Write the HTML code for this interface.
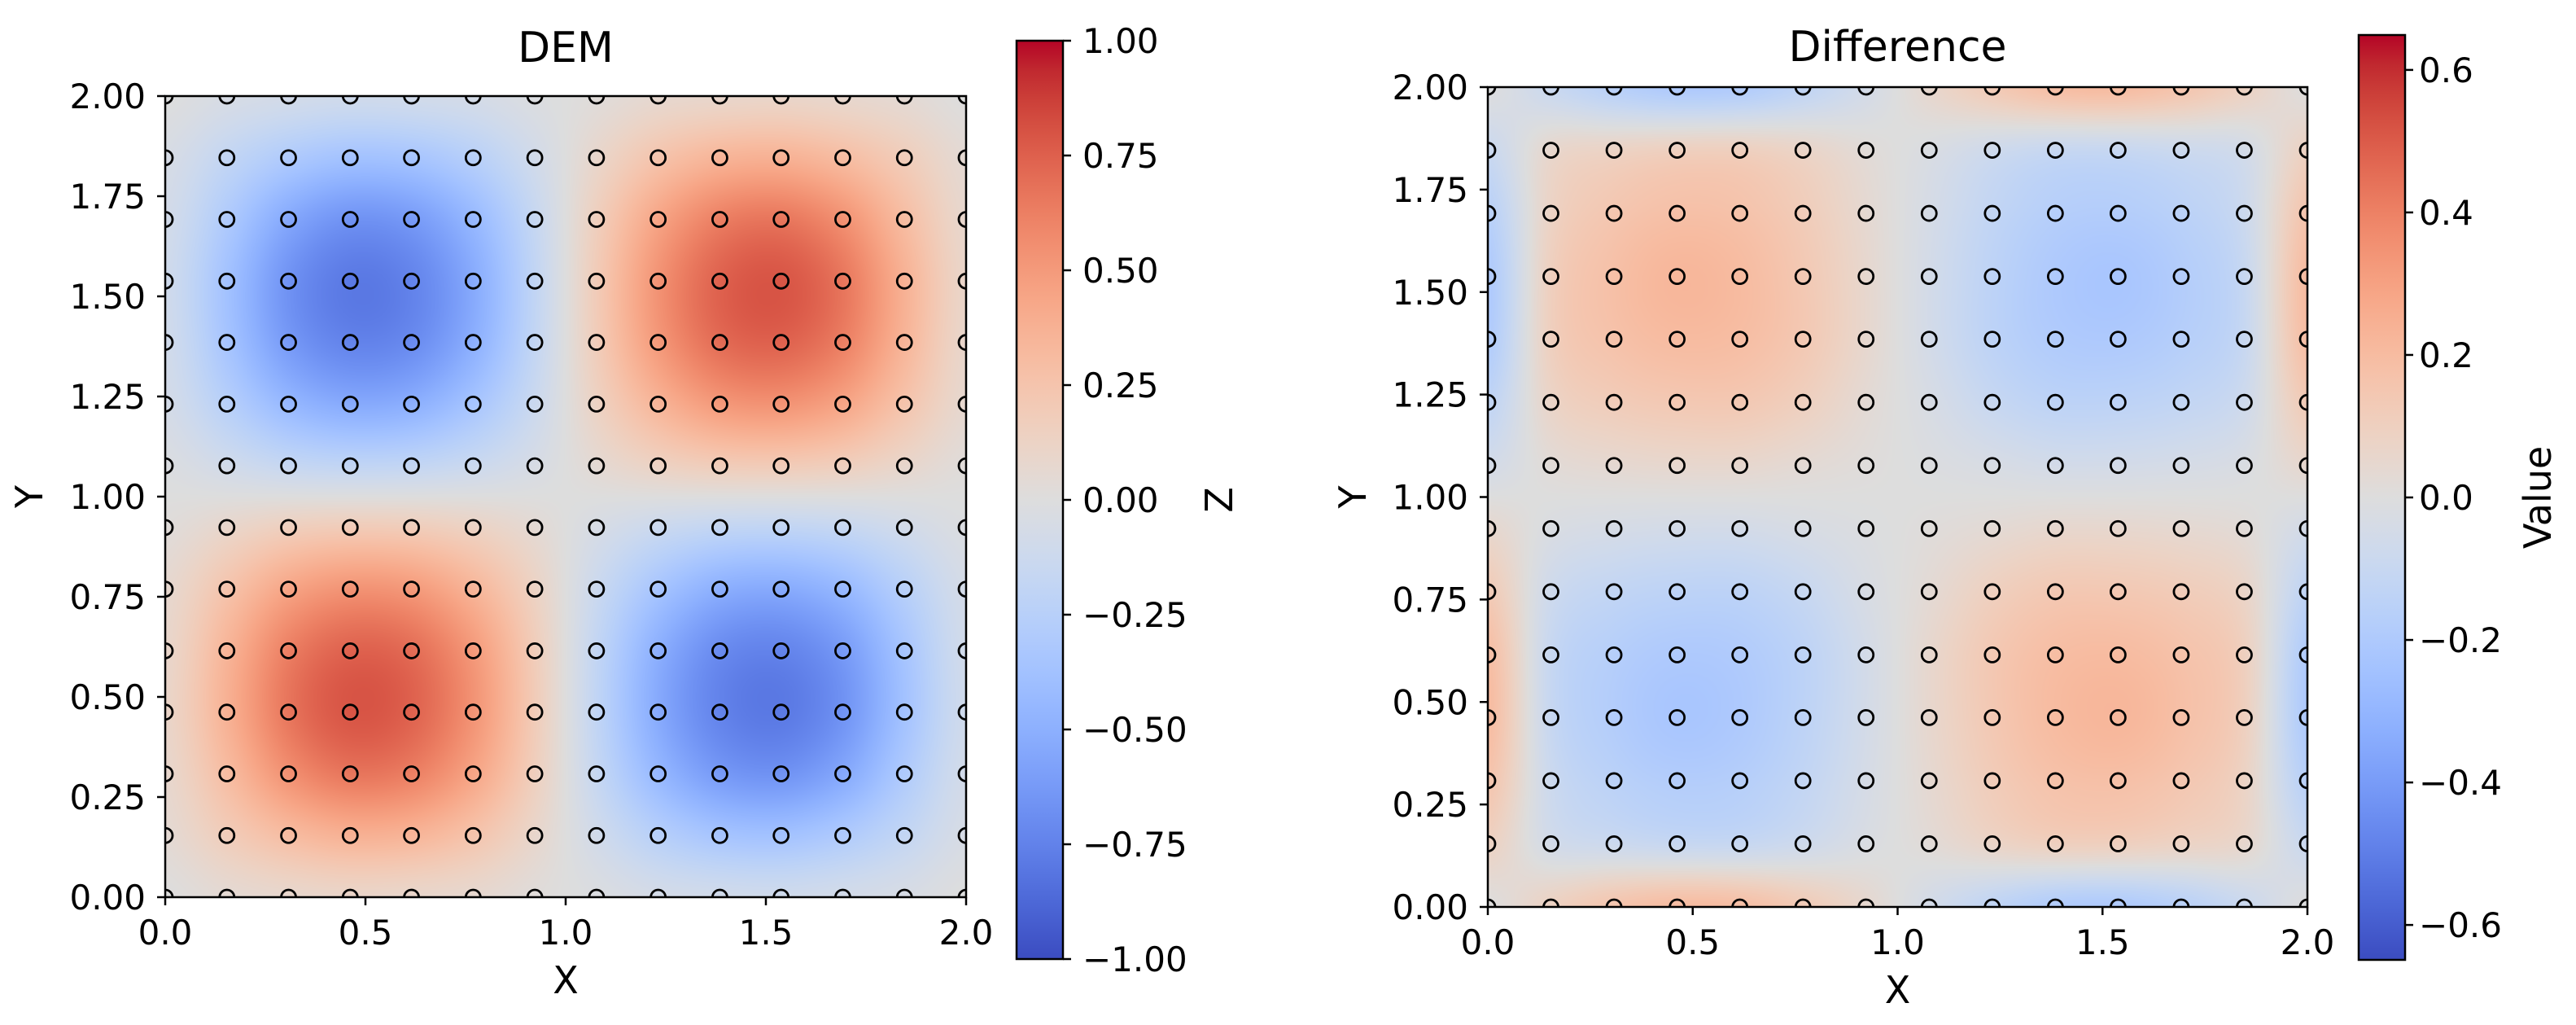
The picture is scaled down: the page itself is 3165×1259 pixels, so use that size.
<!DOCTYPE html>
<html><head><meta charset="utf-8">
<style>
html,body{margin:0;padding:0;background:#fff;}
#wrap{position:relative;width:3165px;height:1259px;overflow:hidden;}
canvas{position:absolute;}
svg{position:absolute;left:0;top:0;}
text{font-family:"DejaVu Sans","Liberation Sans",sans-serif;fill:#000;}
</style></head>
<body>
<div id="wrap">
<canvas id="c1" width="984" height="984" style="left:203px;top:118px;"></canvas>
<canvas id="c2" width="1007" height="1007" style="left:1828px;top:107px;"></canvas>
<svg id="svg" width="3165" height="1259" xmlns="http://www.w3.org/2000/svg"></svg>
</div>
<script>
// grid coordinates (14 points from 0 to 2)
const gridX = [0,0.154,0.308,0.462,0.615,0.769,0.923,1.077,1.231,1.385,1.538,1.692,1.846,2.0];
const gridY = [0,0.154,0.308,0.462,0.615,0.769,0.923,1.077,1.231,1.385,1.538,1.692,1.846,2.0];
// DEM values, rows from y=0 upward
const demRows = [
[0,.05,.08,.10,.09,.07,.02,-.02,-.07,-.09,-.10,-.08,-.05,0],
[.05,.18,.30,.37,.35,.25,.09,-.09,-.25,-.35,-.37,-.30,-.18,-.05],
[.08,.30,.54,.66,.62,.44,.16,-.16,-.44,-.62,-.66,-.54,-.30,-.08],
[.10,.37,.66,.79,.74,.53,.19,-.19,-.53,-.74,-.79,-.66,-.37,-.10],
[.09,.35,.62,.74,.70,.50,.18,-.18,-.50,-.70,-.74,-.62,-.35,-.09],
[.07,.25,.44,.53,.50,.35,.13,-.13,-.35,-.50,-.53,-.44,-.25,-.07],
[.02,.09,.16,.19,.18,.13,.05,-.05,-.13,-.18,-.19,-.16,-.09,-.02],
[-.02,-.09,-.16,-.19,-.18,-.13,-.05,.05,.13,.18,.19,.16,.09,.02],
[-.07,-.25,-.44,-.53,-.50,-.35,-.13,.13,.35,.50,.53,.44,.25,.07],
[-.09,-.35,-.62,-.74,-.70,-.50,-.18,.18,.50,.70,.74,.62,.35,.09],
[-.10,-.37,-.66,-.79,-.74,-.53,-.19,.19,.53,.74,.79,.66,.37,.10],
[-.08,-.30,-.54,-.66,-.62,-.44,-.16,.16,.44,.62,.66,.54,.30,.08],
[-.05,-.18,-.30,-.37,-.35,-.25,-.09,.09,.25,.35,.37,.30,.18,.05],
[0,-.05,-.08,-.10,-.09,-.07,-.02,.02,.07,.09,.10,.08,.05,0]
];
// Difference values, rows from y=0 upward
const diffRows = [
[0,.09,.16,.20,.19,.13,.05,-.05,-.13,-.19,-.20,-.16,-.09,0],
[.09,-.05,-.08,-.10,-.10,-.07,-.02,.02,.07,.10,.10,.08,.05,-.09],
[.16,-.08,-.15,-.18,-.17,-.12,-.04,.04,.12,.17,.18,.15,.08,-.16],
[.20,-.10,-.18,-.22,-.20,-.14,-.05,.05,.14,.20,.22,.18,.10,-.20],
[.19,-.10,-.17,-.20,-.19,-.14,-.05,.05,.14,.19,.20,.17,.10,-.19],
[.13,-.07,-.12,-.14,-.14,-.10,-.03,.03,.10,.14,.14,.12,.07,-.13],
[.05,-.02,-.04,-.05,-.05,-.03,-.01,.01,.03,.05,.05,.04,.02,-.05],
[-.05,.02,.04,.05,.05,.03,.01,-.01,-.03,-.05,-.05,-.04,-.02,.05],
[-.13,.07,.12,.14,.14,.10,.03,-.03,-.10,-.14,-.14,-.12,-.07,.13],
[-.19,.10,.17,.20,.19,.14,.05,-.05,-.14,-.19,-.20,-.17,-.10,.19],
[-.20,.10,.18,.22,.20,.14,.05,-.05,-.14,-.20,-.22,-.18,-.10,.20],
[-.16,.08,.15,.18,.17,.12,.04,-.04,-.12,-.17,-.18,-.15,-.08,.16],
[-.09,.05,.08,.10,.10,.07,.02,-.02,-.07,-.10,-.10,-.08,-.05,.09],
[0,-.09,-.16,-.20,-.19,-.13,-.05,.05,.13,.19,.20,.16,.09,0]
];
const axisTicks = [0,0.5,1.0,1.5,2.0];
const xTickLabels = ["0.0","0.5","1.0","1.5","2.0"];
const yTicks = [0,0.25,0.5,0.75,1.0,1.25,1.5,1.75,2.0];
const yTickLabels = ["0.00","0.25","0.50","0.75","1.00","1.25","1.50","1.75","2.00"];
const cb1Ticks = [-1,-0.75,-0.5,-0.25,0,0.25,0.5,0.75,1];
const cb1Labels = ["\u22121.00","\u22120.75","\u22120.50","\u22120.25","0.00","0.25","0.50","0.75","1.00"];
const cb2Ticks = [-0.6,-0.4,-0.2,0,0.2,0.4,0.6];
const cb2Labels = ["\u22120.6","\u22120.4","\u22120.2","0.0","0.2","0.4","0.6"];

const CW = [[59,76,192],[68,90,204],[77,104,215],[87,117,225],[98,130,234],[108,142,241],[119,154,247],[130,165,251],[141,176,254],[152,185,255],[163,194,255],[174,201,253],[184,208,249],[194,213,244],[204,217,238],[213,219,230],[221,221,221],[229,216,209],[236,211,197],[241,204,185],[245,196,173],[247,187,160],[247,177,148],[247,166,135],[244,154,123],[241,141,111],[236,127,99],[229,112,88],[222,96,77],[213,80,66],[203,62,56],[192,40,47],[180,4,38]];
function cw(t){t=Math.max(0,Math.min(1,t));const f=t*32;const i=Math.min(31,Math.floor(f));const r=f-i;const a=CW[i],b=CW[i+1];return [a[0]+(b[0]-a[0])*r,a[1]+(b[1]-a[1])*r,a[2]+(b[2]-a[2])*r];}
function cr(p0,p1,p2,p3,t){return 0.5*((2*p1)+(-p0+p2)*t+(2*p0-5*p1+4*p2-p3)*t*t+(-p0+3*p1-3*p2+p3)*t*t*t);}
function sample(G,u,v){
  const n=G.length-1;
  const iu=Math.min(n-1,Math.floor(u)), iv=Math.min(n-1,Math.floor(v));
  const fu=u-iu, fv=v-iv;
  const g=(j,i)=>G[Math.max(0,Math.min(n,j))][Math.max(0,Math.min(n,i))];
  const col=[];
  for(let dj=-1;dj<=2;dj++){const j=iv+dj;col.push(cr(g(j,iu-1),g(j,iu),g(j,iu+1),g(j,iu+2),fu));}
  return cr(col[0],col[1],col[2],col[3],fv);
}
function drawHeat(id,G,vmin,vmax){
  const c=document.getElementById(id);const ctx=c.getContext('2d');
  const W=c.width,H=c.height;const img=ctx.createImageData(W,H);const n=G.length-1;
  for(let py=0;py<H;py++){
    const yv=(1-(py+0.5)/H)*2; const v=yv/2*n;
    for(let px=0;px<W;px++){
      const xv=(px+0.5)/W*2; const u=xv/2*n;
      const val=sample(G,u,v);const col=cw((val-vmin)/(vmax-vmin));
      const k=(py*W+px)*4;img.data[k]=col[0];img.data[k+1]=col[1];img.data[k+2]=col[2];img.data[k+3]=255;
    }
  }
  ctx.putImageData(img,0,0);
}
drawHeat('c1',demRows,-1,1);
drawHeat('c2',diffRows,-0.649,0.649);

const NS="http://www.w3.org/2000/svg";
const svg=document.getElementById('svg');
function mk(tag,attrs,parent){const e=document.createElementNS(NS,tag);for(const k in attrs)e.setAttribute(k,attrs[k]);(parent||svg).appendChild(e);return e;}
function txt(s,attrs,parent){const e=mk('text',attrs,parent);e.textContent=s;return e;}

const defs=mk('defs',{});
const grad=mk('linearGradient',{id:'cwg',x1:0,y1:1,x2:0,y2:0},defs);
CW.forEach((c,i)=>{mk('stop',{offset:(i/32),'stop-color':`rgb(${c[0]},${c[1]},${c[2]})`},grad);});

function panel(cfg){
  const g=mk('g',{});
  
  
  const sx=v=>cfg.x0+v/2*cfg.w, sy=v=>cfg.y0+cfg.h-v/2*cfg.h;
  const cid='clip-'+cfg.name;
  const cp=mk('clipPath',{id:cid},defs);mk('rect',{x:cfg.x0,y:cfg.y0,width:cfg.w,height:cfg.h},cp);
  const mg=mk('g',{'clip-path':`url(#${cid})`},g);
  
  
  gridY.forEach(yv=>gridX.forEach(xv=>{
    const c=mk('circle',{cx:sx(xv),cy:sy(yv),r:9,fill:'none',stroke:'#000','stroke-width':2.8},mg);
    
    
  }));
  const fr=mk('rect',{x:cfg.x0,y:cfg.y0,width:cfg.w,height:cfg.h,fill:'none',stroke:'#000','stroke-width':2.5},g);
  
  
  axisTicks.forEach((v,i)=>{
    mk('line',{x1:sx(v),x2:sx(v),y1:cfg.y0+cfg.h,y2:cfg.y0+cfg.h+10,stroke:'#000','stroke-width':2.5},g);
    const t=txt(xTickLabels[i],{x:sx(v),y:cfg.y0+cfg.h+58,'font-size':42,'text-anchor':'middle'},g);
    
    
  });
  yTicks.forEach((v,i)=>{
    mk('line',{x1:cfg.x0-10,x2:cfg.x0,y1:sy(v),y2:sy(v),stroke:'#000','stroke-width':2.5},g);
    const t=txt(yTickLabels[i],{x:cfg.x0-24,y:sy(v)+15,'font-size':42,'text-anchor':'end'},g);
    
    
  });
  const tt=txt(cfg.title,{x:cfg.x0+cfg.w/2,y:cfg.titleY,'font-size':52,'text-anchor':'middle'},g);
  
  
  const xl=txt('X',{x:cfg.x0+cfg.w/2,y:cfg.y0+cfg.h+118,'font-size':46,'text-anchor':'middle'},g);
  
  
  const yl=txt('Y',{x:0,y:0,'font-size':46,'text-anchor':'middle',transform:`translate(${cfg.ylx},${cfg.y0+cfg.h/2}) rotate(-90)`},g);
  
  
  const cb=mk('g',{},g);
  
  
  mk('rect',{x:cfg.cbx,y:cfg.cbt,width:cfg.cbw,height:cfg.cbb-cfg.cbt,fill:'url(#cwg)',stroke:'#000','stroke-width':2.5},cb);
  const cy=v=>cfg.cbb-(v-cfg.vmin)/(cfg.vmax-cfg.vmin)*(cfg.cbb-cfg.cbt);
  cfg.cbTicks.forEach((v,i)=>{
    mk('line',{x1:cfg.cbx+cfg.cbw,x2:cfg.cbx+cfg.cbw+10,y1:cy(v),y2:cy(v),stroke:'#000','stroke-width':2.5},cb);
    const t=txt(cfg.cbLabels[i],{x:cfg.cblx,y:cy(v)+15,'font-size':42},cb);
    
    
  });
  const cl=txt(cfg.cbTitle,{x:0,y:0,'font-size':46,'text-anchor':'middle',transform:`translate(${cfg.cbtx},${(cfg.cbt+cfg.cbb)/2}) rotate(-90)`},cb);
  
  
}
panel({name:'dem-panel',title:'DEM',titleY:76,x0:203,y0:118,w:984,h:984,ylx:52,cbx:1249,cbw:57,cbt:50,cbb:1178,vmin:-1,vmax:1,cbTicks:cb1Ticks,cbLabels:cb1Labels,cblx:1330,cbtx:1514,cbTitle:'Z'});
panel({name:'difference-panel',title:'Difference',titleY:75,x0:1828,y0:107,w:1007,h:1007,ylx:1678,cbx:2898,cbw:57,cbt:43,cbb:1179,vmin:-0.649,vmax:0.649,cbTicks:cb2Ticks,cbLabels:cb2Labels,cblx:2972,cbtx:3134,cbTitle:'Value'});
</script>
</body></html>
